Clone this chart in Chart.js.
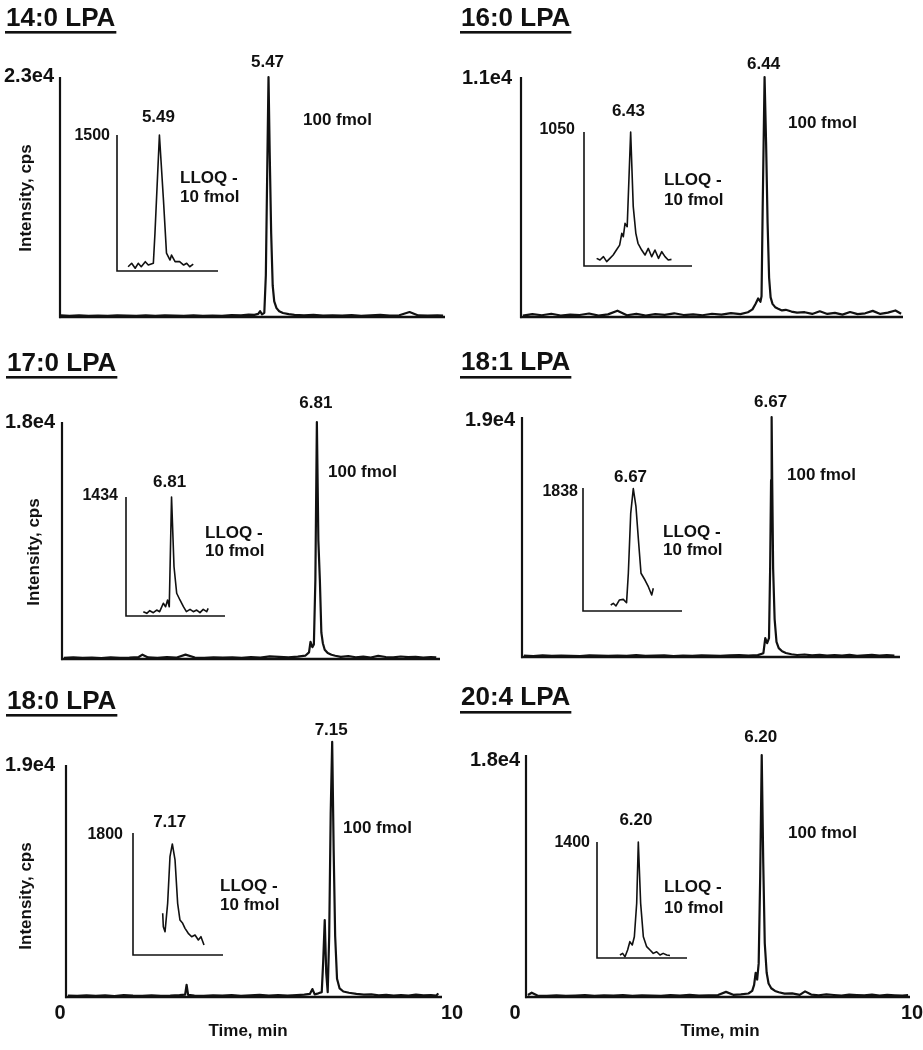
<!DOCTYPE html>
<html><head><meta charset="utf-8">
<script src="https://cdn.jsdelivr.net/npm/chart.js@4.4.1/dist/chart.umd.min.js"></script>
<style>
html,body{margin:0;padding:0;background:#fff;}
#wrap{position:relative;width:923px;height:1050px;overflow:hidden;background:#fff;}
#wrap canvas{position:absolute;left:0;top:0;}
</style></head><body><div id="wrap"></div>
<script>
// ---------------- DATA ----------------
const panelNames = ['14:0 LPA','16:0 LPA','17:0 LPA','18:1 LPA','18:0 LPA','20:4 LPA'];
const yTopValues = [23000,11000,18000,19000,19000,18000];
const yTopLabels = ['2.3e4','1.1e4','1.8e4','1.9e4','1.9e4','1.8e4'];
const mainPeakTimes = [5.47,6.44,6.81,6.67,7.15,6.20];
const insetTopValues = [1500,1050,1434,1838,1800,1400];
const insetTopLabels = ['1500','1050','1434','1838','1800','1400'];
const insetPeakTimes = [5.49,6.43,6.81,6.67,7.17,6.20];
const insetXMin = [5.06,6.0,6.35,6.17,6.74,5.745];
const insetXSpan = 1.0;
const xTickValues = [0,10];
const xTickLabels = ['0','10'];
const xMax = 10.1;
const amountLabel = '100 fmol';
const lloqLabel = ['LLOQ -','10 fmol'];
const yAxisTitle = 'Intensity, cps';
const xAxisTitle = 'Time, min';

// 14:0 LPA
const tA = [0.02,0.25,0.5,0.75,1.0,1.25,1.5,1.75,2.0,2.25,2.5,2.75,3.0,3.25,3.5,3.75,4.0,4.25,4.5,4.75,4.95,5.1,5.2,5.25,5.3,5.36,5.4,5.44,5.47,5.5,5.54,5.58,5.62,5.68,5.75,5.85,6.0,6.15,6.4,6.65,6.9,7.15,7.4,7.65,7.9,8.15,8.4,8.65,8.9,9.17,9.4,9.65,9.9,10.05];
const vA = [150,110,170,120,140,100,160,130,110,150,120,170,130,110,160,120,140,110,180,150,220,200,300,550,250,400,4000,15000,23000,16000,8000,3000,1500,850,550,380,280,200,150,200,130,170,140,190,120,160,200,140,170,480,150,130,170,140];
const tAi = [5.17,5.205,5.24,5.27,5.30,5.34,5.37,5.42,5.436,5.48,5.52,5.55,5.585,5.60,5.635,5.68,5.72,5.75,5.78,5.815];
const vAi = [47,85,30,85,47,103,66,85,419,1500,783,198,121,176,103,103,66,85,47,75];
// 16:0 LPA
const tB = [0.05,0.3,0.55,0.8,1.05,1.3,1.55,1.8,2.05,2.3,2.55,2.8,3.05,3.3,3.55,3.8,4.05,4.3,4.55,4.8,5.05,5.3,5.55,5.8,6.0,6.12,6.2,6.27,6.33,6.36,6.39,6.44,6.48,6.52,6.56,6.6,6.65,6.72,6.8,6.9,7.0,7.15,7.3,7.5,7.7,7.9,8.1,8.3,8.5,8.7,8.9,9.1,9.3,9.5,9.7,9.9,10.05];
const vB = [60,130,80,150,70,110,90,160,60,120,290,80,140,70,130,100,170,90,120,80,150,110,180,130,220,350,600,850,700,950,5000,11000,8000,4300,1800,900,600,450,380,300,330,250,200,220,140,260,140,190,110,230,130,170,280,140,200,300,150];
const tBi = [6.117,6.148,6.18,6.21,6.24,6.27,6.30,6.33,6.35,6.364,6.38,6.40,6.432,6.456,6.48,6.50,6.534,6.565,6.595,6.627,6.657,6.69,6.72,6.75,6.78,6.81];
const vBi = [60,47,73,34,60,86,125,164,256,230,334,308,1050,465,256,178,125,86,138,73,125,60,112,73,47,52];
// 17:0 LPA
const tC = [0.05,0.3,0.55,0.8,1.05,1.3,1.55,1.8,2.05,2.15,2.3,2.55,2.8,3.05,3.3,3.55,3.8,4.05,4.3,4.55,4.8,5.05,5.3,5.55,5.8,6.05,6.3,6.5,6.6,6.64,6.69,6.73,6.77,6.81,6.85,6.89,6.93,6.97,7.02,7.1,7.2,7.3,7.45,7.65,7.85,8.05,8.25,8.45,8.65,8.85,9.05,9.25,9.45,9.65,9.85,10.0];
const vC = [90,120,80,110,70,130,90,110,150,330,120,90,140,100,330,110,80,120,100,130,90,150,110,200,160,120,180,250,500,1300,900,1100,6000,18000,9000,6000,2000,1200,700,450,320,250,160,220,130,180,110,240,150,120,190,140,170,110,150,120];
const tCi = [6.525,6.56,6.59,6.626,6.66,6.69,6.727,6.75,6.77,6.787,6.81,6.835,6.862,6.895,6.93,6.96,6.997,7.03,7.064,7.097,7.13,7.165,7.18];
const vCi = [52,32,64,40,72,52,153,112,193,112,1434,594,274,193,112,52,80,52,72,40,80,52,92];
// 18:1 LPA
const tD = [0.05,0.3,0.55,0.8,1.05,1.3,1.55,1.8,2.05,2.3,2.55,2.8,3.05,3.3,3.55,3.8,4.05,4.3,4.55,4.8,5.05,5.3,5.55,5.8,6.05,6.3,6.45,6.5,6.55,6.6,6.63,6.655,6.67,6.685,6.71,6.75,6.8,6.86,6.95,7.05,7.2,7.35,7.55,7.75,7.95,8.15,8.35,8.55,8.75,8.95,9.15,9.35,9.55,9.75,9.95];
const vD = [110,80,130,90,120,100,80,140,110,90,120,100,150,90,110,130,80,120,100,140,110,90,130,160,120,150,300,1500,1100,1500,7000,14000,19000,14000,7000,3000,1200,700,450,320,220,160,200,130,170,110,150,120,180,100,140,170,120,150,110];
const tDi = [6.45,6.476,6.503,6.537,6.577,6.61,6.628,6.652,6.678,6.705,6.73,6.756,6.796,6.83,6.864,6.88];
const vDi = [90,115,75,164,174,124,564,1460,1830,1558,1061,564,463,363,239,340];
// 18:0 LPA
const tE = [0.05,0.3,0.55,0.8,1.05,1.3,1.55,1.8,2.05,2.3,2.55,2.8,3.05,3.2,3.24,3.28,3.45,3.7,3.95,4.2,4.45,4.7,4.95,5.2,5.45,5.7,5.95,6.2,6.4,6.55,6.62,6.68,6.78,6.87,6.91,6.95,6.99,7.03,7.07,7.11,7.15,7.19,7.23,7.28,7.35,7.45,7.6,7.8,8.0,8.2,8.4,8.6,8.8,9.0,9.2,9.4,9.6,9.8,9.95,10.0];
const vE = [120,90,140,100,130,80,150,110,90,140,100,120,160,200,1000,180,120,90,140,110,160,100,130,170,120,150,110,160,200,250,650,220,300,400,3000,6300,2000,400,5000,15000,20900,12000,5000,1500,700,450,350,260,200,220,140,180,120,160,110,190,130,150,120,300];
const tEi = [7.07,7.077,7.096,7.125,7.151,7.177,7.207,7.236,7.262,7.292,7.318,7.354,7.392,7.429,7.466,7.495,7.529];
const vEi = [615,418,344,763,1450,1638,1402,763,516,467,393,320,270,295,221,270,148];
// 20:4 LPA
const tF = [0.05,0.15,0.3,0.55,0.8,1.05,1.3,1.55,1.8,2.05,2.3,2.55,2.8,3.05,3.3,3.55,3.8,4.05,4.3,4.55,4.8,5.05,5.26,5.45,5.65,5.85,5.95,6.0,6.04,6.08,6.12,6.16,6.2,6.24,6.28,6.33,6.38,6.45,6.55,6.65,6.8,7.0,7.2,7.34,7.5,7.7,7.9,8.1,8.3,8.5,8.7,8.9,9.1,9.3,9.5,9.7,9.9,10.05];
const vF = [150,320,110,90,130,80,110,140,90,120,100,150,90,130,110,80,140,100,160,110,130,150,380,160,200,260,450,900,1800,1300,2500,9000,18000,10000,4000,1800,1000,650,450,350,250,270,160,420,180,130,200,150,110,170,140,120,180,100,160,130,110,140];
const tFi = [6.0,6.03,6.056,6.085,6.11,6.137,6.16,6.186,6.204,6.23,6.26,6.297,6.334,6.37,6.408,6.445,6.48,6.52,6.556];
const vFi = [36,56,16,97,197,157,257,660,1400,660,257,137,97,56,76,36,56,36,30];

const mainTimes = [tA,tB,tC,tD,tE,tF];
const mainVals = [vA,vB,vC,vD,vE,vF];
const insetTimes = [tAi,tBi,tCi,tDi,tEi,tFi];
const insetVals = [vAi,vBi,vCi,vDi,vEi,vFi];

// ---------------- LAYOUT (pixels) ----------------
const W = 923, H = 1050;
const layout = [
 {area:{l:60,t:77,r:445,b:317}, inset:{l:117,t:135,r:218,b:271}, title:{x:6,y:19,u:31}, yTop:{x:54,y:76}, peakY:62, amount:{x:303,y:120}, insetTop:{x:110,y:136}, insetPeakY:117, lloq:{x:180,y:178,dy:19}, yTitle:{x:26,y:198}},
 {area:{l:521,t:77,r:903,b:317}, inset:{l:584,t:132,r:692,b:266}, title:{x:461,y:19,u:31}, yTop:{x:512,y:78}, peakY:64, amount:{x:788,y:123}, insetTop:{x:575,y:130}, insetPeakY:111, lloq:{x:664,y:180,dy:20}},
 {area:{l:62,t:422,r:440,b:659}, inset:{l:126,t:497,r:225,b:616}, title:{x:7,y:364,u:376}, yTop:{x:55,y:422}, peakY:403, amount:{x:328,y:472}, insetTop:{x:118,y:496}, insetPeakY:482, lloq:{x:205,y:533,dy:18}, yTitle:{x:34,y:552}},
 {area:{l:522,t:417,r:900,b:657}, inset:{l:583,t:488,r:682,b:611}, title:{x:461,y:363,u:376}, yTop:{x:515,y:420}, peakY:402, amount:{x:787,y:475}, insetTop:{x:578,y:492}, insetPeakY:477, lloq:{x:663,y:532,dy:18}},
 {area:{l:66,t:765,r:442,b:997}, inset:{l:133,t:833,r:223,b:955}, title:{x:7,y:702,u:714}, yTop:{x:55,y:765}, peakY:730, amount:{x:343,y:828}, insetTop:{x:123,y:835}, insetPeakY:822, lloq:{x:220,y:886,dy:19}, yTitle:{x:26,y:896}, xt:{y:1013,x0:60,x10:452,tx:248,ty:1031}},
 {area:{l:526,t:755,r:910,b:997}, inset:{l:597,t:842,r:687,b:958}, title:{x:461,y:698,u:711}, yTop:{x:520,y:760}, peakY:737, amount:{x:788,y:833}, insetTop:{x:590,y:843}, insetPeakY:820, lloq:{x:664,y:887,dy:21}, xt:{y:1013,x0:515,x10:912,tx:720,ty:1031}}
];

const INK = '#111';
const FONT = '"Liberation Sans", Arial, sans-serif';
function txt(ctx, s, x, y, size, align) {
  ctx.font = 'bold ' + size + 'px ' + FONT;
  ctx.fillStyle = INK;
  ctx.textAlign = align || 'left';
  ctx.textBaseline = 'middle';
  ctx.fillText(s, x, y);
}

const wrap = document.getElementById('wrap');
function newCanvas() {
  const c = document.createElement('canvas');
  c.width = W; c.height = H;
  c.style.width = W + 'px'; c.style.height = H + 'px';
  wrap.appendChild(c);
  return c;
}

function pts(ts, vs) { return ts.map((t, i) => ({x: t, y: vs[i]})); }

function baseConfig(area, xmin, xmaxv, ymax, data, lw, plugin) {
  return {
    type: 'line',
    data: {datasets: [{data: data, borderColor: INK, borderWidth: lw, pointRadius: 0, fill: false, tension: 0, clip: false, borderJoinStyle: 'round'}]},
    options: {
      responsive: false, animation: false, devicePixelRatio: 1,
      layout: {padding: {left: area.l, top: area.t, right: W - area.r, bottom: H - area.b}},
      scales: {
        x: {type: 'linear', display: false, min: xmin, max: xmaxv},
        y: {type: 'linear', display: false, min: 0, max: ymax}
      },
      plugins: {legend: {display: false}, tooltip: {enabled: false}},
      events: []
    },
    plugins: [plugin]
  };
}

for (let i = 0; i < 6; i++) {
  const L = layout[i];
  const mainPlugin = {
    id: 'mainDeco' + i,
    beforeDatasetsDraw(chart) {
      const {ctx, scales: {x, y}} = chart;
      const x0 = x.getPixelForValue(0), xr = x.getPixelForValue(xMax);
      const y0 = y.getPixelForValue(0), yt = y.getPixelForValue(yTopValues[i]);
      ctx.save();
      ctx.strokeStyle = INK; ctx.lineWidth = 2.2; ctx.lineCap = 'butt';
      ctx.beginPath(); ctx.moveTo(x0, yt); ctx.lineTo(x0, y0 + 1.1); ctx.stroke();
      ctx.lineWidth = 2.4;
      ctx.beginPath(); ctx.moveTo(x0 - 1, y0); ctx.lineTo(xr, y0); ctx.stroke();
      ctx.restore();
    },
    afterDraw(chart) {
      const {ctx, scales: {x}} = chart;
      ctx.save();
      txt(ctx, panelNames[i], L.title.x, L.title.y, 26, 'left');
      ctx.font = 'bold 26px ' + FONT;
      const w = ctx.measureText(panelNames[i]).width;
      ctx.fillRect(L.title.x - 1, L.title.u, w + 2, 2.6);
      txt(ctx, yTopLabels[i], L.yTop.x, L.yTop.y, 20, 'right');
      txt(ctx, mainPeakTimes[i].toFixed(2), x.getPixelForValue(mainPeakTimes[i]) - 1, L.peakY, 17, 'center');
      txt(ctx, amountLabel, L.amount.x, L.amount.y, 17, 'left');
      if (L.yTitle) {
        ctx.save();
        ctx.translate(L.yTitle.x, L.yTitle.y);
        ctx.rotate(-Math.PI / 2);
        txt(ctx, yAxisTitle, 0, 0, 17, 'center');
        ctx.restore();
      }
      if (L.xt) {
        txt(ctx, xTickLabels[0], L.xt.x0, L.xt.y, 20, 'center');
        txt(ctx, xTickLabels[1], L.xt.x10, L.xt.y, 20, 'center');
        txt(ctx, xAxisTitle, L.xt.tx, L.xt.ty, 17, 'center');
      }
      ctx.restore();
    }
  };
  new Chart(newCanvas(), baseConfig(L.area, 0, xMax, yTopValues[i], pts(mainTimes[i], mainVals[i]), 2.2, mainPlugin));

  const insetPlugin = {
    id: 'insetDeco' + i,
    beforeDatasetsDraw(chart) {
      const {ctx, scales: {x, y}} = chart;
      const x0 = x.getPixelForValue(insetXMin[i]), xr = x.getPixelForValue(insetXMin[i] + insetXSpan);
      const y0 = y.getPixelForValue(0), yt = y.getPixelForValue(insetTopValues[i]);
      ctx.save();
      ctx.strokeStyle = INK; ctx.lineWidth = 1.6;
      ctx.beginPath(); ctx.moveTo(x0, yt); ctx.lineTo(x0, y0); ctx.lineTo(xr, y0); ctx.stroke();
      ctx.restore();
    },
    afterDraw(chart) {
      const {ctx, scales: {x}} = chart;
      ctx.save();
      txt(ctx, insetTopLabels[i], L.insetTop.x, L.insetTop.y, 16, 'right');
      txt(ctx, insetPeakTimes[i].toFixed(2), x.getPixelForValue(insetPeakTimes[i]) - 2, L.insetPeakY, 17, 'center');
      txt(ctx, lloqLabel[0], L.lloq.x, L.lloq.y, 17, 'left');
      txt(ctx, lloqLabel[1], L.lloq.x, L.lloq.y + L.lloq.dy, 17, 'left');
      ctx.restore();
    }
  };
  new Chart(newCanvas(), baseConfig(L.inset, insetXMin[i], insetXMin[i] + insetXSpan, insetTopValues[i], pts(insetTimes[i], insetVals[i]), 1.6, insetPlugin));
}
</script>
</body></html>
